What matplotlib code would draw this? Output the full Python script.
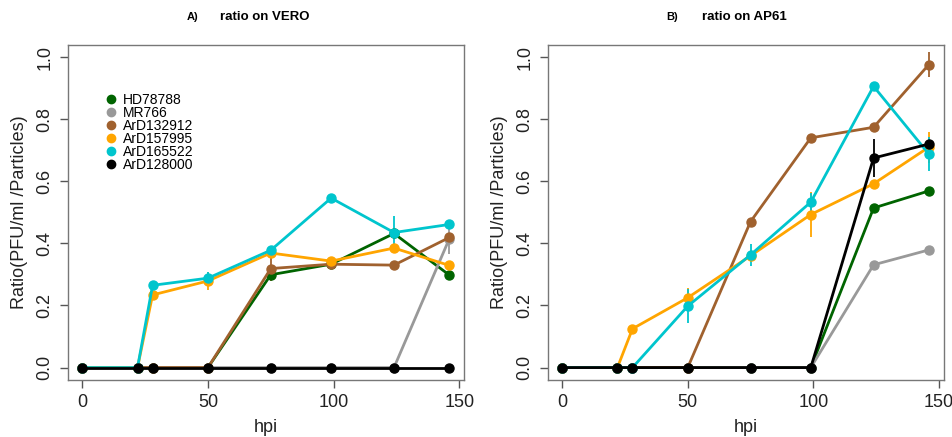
import matplotlib
matplotlib.use("Agg")
import matplotlib.pyplot as plt
from matplotlib.lines import Line2D

plt.rcParams['font.family'] = ['Liberation Sans', 'DejaVu Sans']

hpi = [0, 22, 28, 50, 75, 99, 124, 146]
strains = ["HD78788", "MR766", "ArD132912", "ArD157995", "ArD165522", "ArD128000"]
colors = ["#006400", "#999999", "#A0612E", "#FFA500", "#00C5CD", "#000000"]

vero = {
    "HD78788":   [0, 0, 0, 0, 0.299, 0.333, 0.432, 0.298],
    "MR766":     [0, 0, 0, 0, 0, 0, 0, 0.415],
    "ArD132912": [0, 0, 0, 0, 0.319, 0.333, 0.330, 0.419],
    "ArD157995": [0, 0, 0.234, 0.279, 0.369, 0.343, 0.385, 0.329],
    "ArD165522": [0, 0, 0.265, 0.288, 0.378, 0.546, 0.435, 0.461],
    "ArD128000": [0, 0, 0, 0, 0, 0, 0, 0],
}
vero_err = {
    "HD78788":   [0, 0, 0, 0, 0.02, 0.01, 0.01, 0.01],
    "MR766":     [0, 0, 0, 0, 0, 0, 0, 0.05],
    "ArD132912": [0, 0, 0, 0, 0.04, 0.01, 0.01, 0.01],
    "ArD157995": [0, 0, 0.01, 0.03, 0.01, 0.01, 0.01, 0.01],
    "ArD165522": [0, 0, 0.01, 0.02, 0.01, 0.01, 0.054, 0.01],
    "ArD128000": [0, 0, 0, 0, 0, 0, 0, 0],
}
ap61 = {
    "HD78788":   [0, 0, 0, 0, 0, 0, 0.514, 0.569],
    "MR766":     [0, 0, 0, 0, 0, 0, 0.331, 0.379],
    "ArD132912": [0, 0, 0, 0, 0.470, 0.740, 0.774, 0.976],
    "ArD157995": [0, 0, 0.125, 0.225, 0.360, 0.493, 0.592, 0.710],
    "ArD165522": [0, 0, 0, 0.198, 0.363, 0.533, 0.906, 0.688],
    "ArD128000": [0, 0, 0, 0, 0, 0, 0.675, 0.720],
}
ap61_err = {
    "HD78788":   [0, 0, 0, 0, 0, 0, 0.01, 0.01],
    "MR766":     [0, 0, 0, 0, 0, 0, 0.01, 0.01],
    "ArD132912": [0, 0, 0, 0, 0.01, 0.01, 0.01, 0.04],
    "ArD157995": [0, 0, 0.01, 0.03, 0.02, 0.074, 0.01, 0.05],
    "ArD165522": [0, 0, 0, 0.056, 0.035, 0.03, 0.01, 0.056],
    "ArD128000": [0, 0, 0, 0, 0, 0, 0.06, 0.01],
}

fig = plt.figure(figsize=(9.52, 4.37), dpi=100)
W, H = 952, 437
ax1 = fig.add_axes([67.5 / W, 57 / H, 396.5 / W, 335.3 / H])
ax2 = fig.add_axes([547.5 / W, 57 / H, 396 / W, 335.3 / H])

def draw(ax, data, err):
    for s, c in zip(strains, colors):
        ax.errorbar(hpi, data[s], yerr=err[s], color=c, lw=2, marker='o',
                    markersize=6.5, elinewidth=1.3, capsize=0, zorder=3)
    ax.set_xlim(-5.84, 151.84)
    ax.set_ylim(-0.04, 1.04)
    ax.set_xticks([0, 50, 100, 150])
    ax.set_yticks([0, 0.2, 0.4, 0.6, 0.8, 1.0])
    ax.set_yticklabels(["0.0", "0.2", "0.4", "0.6", "0.8", "1.0"],
                       rotation=90, va='center')
    ax.tick_params(axis='both', length=6, width=1, color='#555555',
                   labelsize=13, labelcolor='#222222', pad=4)
    for sp in ax.spines.values():
        sp.set_color('#777777')
        sp.set_linewidth(1)
    ax.set_xlabel("hpi", fontsize=13, color='#222222', labelpad=6)
    ax.set_ylabel("Ratio(PFU/ml /Particles)", fontsize=13, color='#222222',
                  labelpad=6)

draw(ax1, vero, vero_err)
draw(ax2, ap61, ap61_err)

handles = [Line2D([], [], color=c, marker='o', linestyle='None', markersize=6)
           for c in colors]
ax1.legend(handles, strains, loc='upper left', bbox_to_anchor=(0.1, 0.855),
           frameon=False, fontsize=10, labelspacing=-0.08, handlelength=0.6,
           handletextpad=0.55, borderaxespad=0, borderpad=0)

fig.text(186.5 / W, 1 - 17.5 / H, "A)", fontsize=8, fontweight='bold',
         va='center', ha='left')
fig.text(220 / W, 1 - 17.5 / H, "ratio on VERO", fontsize=9.5,
         fontweight='bold', va='center', ha='left')
fig.text(666.5 / W, 1 - 17.5 / H, "B)", fontsize=8, fontweight='bold',
         va='center', ha='left')
fig.text(701.5 / W, 1 - 17.5 / H, "ratio on AP61", fontsize=9.5,
         fontweight='bold', va='center', ha='left')

fig.savefig("out.png", dpi=100)
